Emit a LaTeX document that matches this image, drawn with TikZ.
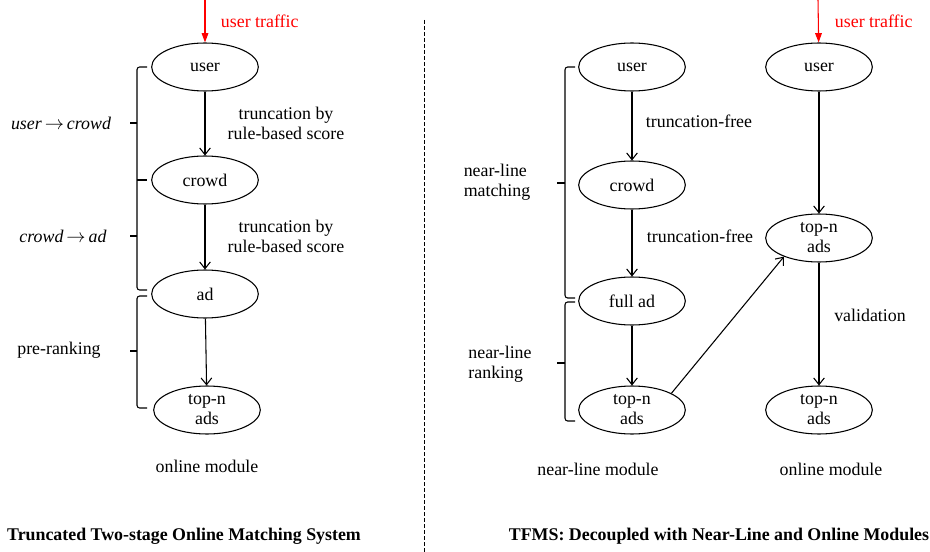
\documentclass[tikz,border=0pt]{standalone}
\usepackage{fontspec}
\setmainfont{Liberation Serif}
\usetikzlibrary{arrows.meta,shapes.geometric}

\begin{document}
\begin{tikzpicture}[
    x=0.75pt, y=-0.75pt,
    line width=0.8pt,
    font=\fontsize{13.4}{15}\selectfont,
    stage/.style={
        ellipse,
        align=center,
        draw=black, inner xsep=0pt, inner ysep=-2pt,
        minimum width=80pt, minimum height=36pt,
      },
    flow/.style={-{Straight Barb[length=5pt,width=8pt]}},
    traffic/.style={red, -{Triangle[length=7pt,width=5pt]}},
    note/.style={align=center},
    brace/.style={rounded corners=2pt},
  ]
  \useasboundingbox (0,0) rectangle (930,552);

  % left: truncated two-stage matching
  \coordinate (src1) at (205,0);
  \node[stage] (user1) at (205,67) {user};
  \node[stage] (crowd1) at (205,180) {crowd};
  \node[stage] (ad1) at (205,294) {ad};
  \node[stage] (top1) at (207,410) {top-n\\ads};
  \node[red, anchor=west] (tr1) at (216,21) {user traffic};

  \node[note] (trunc1) at (286,123) {truncation by\\rule-based score};
  \node[note] (trunc2) at (286,236) {truncation by\\rule-based score};
  \node[font=\fontsize{13.4}{15}\selectfont\itshape] (uc) at (61,123) {user\,$\rightarrow$\,crowd};
  \node[font=\fontsize{13.4}{15}\selectfont\itshape] (ca) at (63,236) {crowd\,$\rightarrow$\,ad};
  \node (pre) at (59,350) {pre-ranking};
  \node (mod1) at (207,466) {online module};
  \node[font=\fontsize{13.4}{15}\selectfont\bfseries] (title1) at (184,536) {Truncated Two-stage Online Matching System};

  \draw[traffic] (src1) -- (user1);
  \draw[flow] (user1) -- (crowd1);
  \draw[flow] (crowd1) -- (ad1);
  \draw[flow] (ad1) -- (top1);

  \draw[brace] (147,67) -- (137,67) -- (137,290) -- (147,290);
  \draw (130,123) -- (137,123) (130,236) -- (137,236) (137,180) -- (147,180);
  \draw[brace] (147,296) -- (137,296) -- (137,408) -- (147,408);
  \draw (130,351) -- (137,351);

  % separator
  \draw[line width=0.6pt, dash pattern=on 3pt off 1.5pt] (424,20) -- (424,552);

  % right: near-line and online modules
  \coordinate (src2) at (818,0);
  \node[stage] (user2) at (632,67) {user};
  \node[stage] (crowd2) at (632,185) {crowd};
  \node[stage] (full2) at (632,301) {full ad};
  \node[stage] (top2) at (632,410) {top-n\\ads};
  \node[stage] (user3) at (819,67) {user};
  \node[stage] (top3) at (819,238) {top-n\\ads};
  \node[stage] (top4) at (819,410) {top-n\\ads};
  \node[red, anchor=west] (tr2) at (830,21) {user traffic};

  \node (free1) at (699,121) {truncation-free};
  \node (free2) at (700,236) {truncation-free};
  \node (valid) at (870,315) {validation};
  \node[align=left] (match) at (497,182) {near-line\\matching};
  \node[align=left] (rank) at (500,364) {near-line\\ranking};
  \node (mod2) at (598,469) {near-line module};
  \node (mod3) at (831,469) {online module};
  \node[font=\fontsize{13.4}{15}\selectfont\bfseries] (title2) at (719,536) {TFMS: Decoupled with Near-Line and Online Modules};

  \draw[traffic] (src2) -- (user3);
  \draw[flow] (user2) -- (crowd2);
  \draw[flow] (crowd2) -- (full2);
  \draw[flow] (full2) -- (top2);
  \draw[flow] (user3) -- (top3);
  \draw[flow] (top3) -- (top4);
  \draw[flow] (top2.23) -- (top3.208);

  \draw[brace] (575,67) -- (565,67) -- (565,298) -- (575,298);
  \draw (557,183) -- (565,183);
  \draw[brace] (575,302) -- (565,302) -- (565,421) -- (575,421);
  \draw (557,363) -- (565,363);
\end{tikzpicture}
\end{document}
